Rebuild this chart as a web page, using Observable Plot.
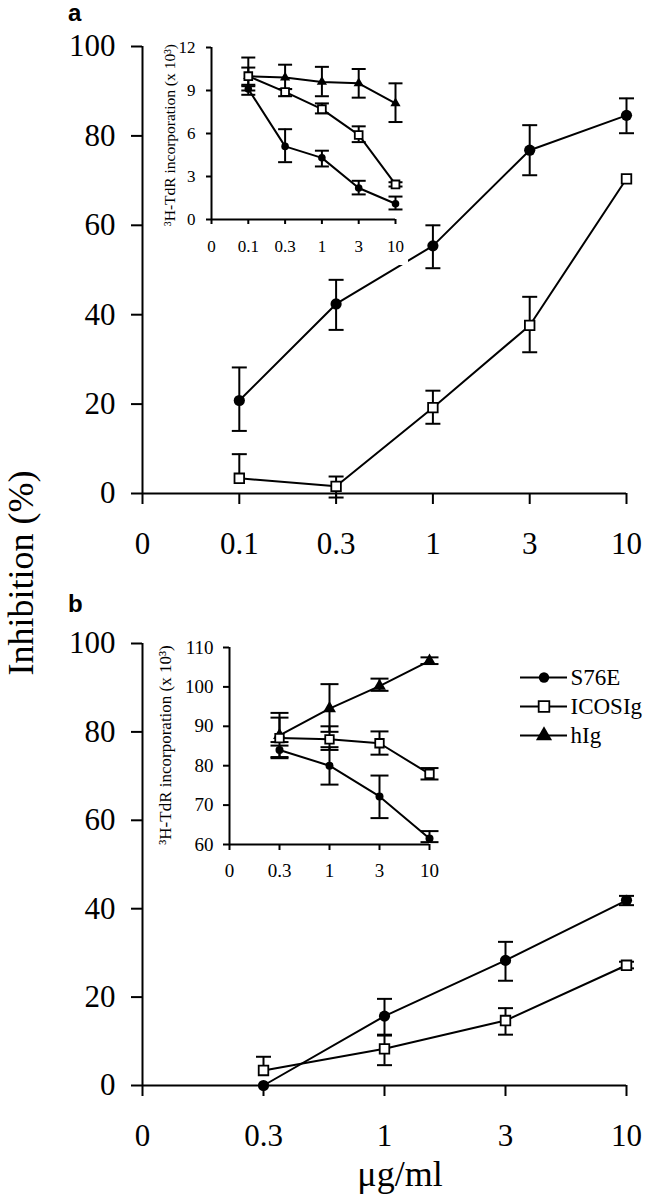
<!DOCTYPE html>
<html><head><meta charset="utf-8">
<script src="https://cdn.jsdelivr.net/npm/d3@7"></script>
<script src="https://cdn.jsdelivr.net/npm/@observablehq/plot@0.6"></script>
<style>
body{margin:0;background:#fff;}
#fig{position:relative;width:647px;height:1199px;overflow:hidden;font-family:"Liberation Serif",serif;color:#000;}
#fig > svg{position:absolute;}
.lbl{position:absolute;white-space:nowrap;line-height:1;}
.rot{transform:translate(-50%,-50%) rotate(-90deg);}
.ctr{transform:translate(-50%,-50%);}
.panel{font-family:"Liberation Sans",Arial,sans-serif;font-weight:bold;font-size:24px;}
</style></head><body><div id="fig"></div>
<script>
// ---------- data ----------
const doseA = ["0","0.1","0.3","1","3","10"];
const doseB = ["0","0.3","1","3","10"];
const seriesNames = ["S76E","ICOSIg","hIg"];
const ticksInhibition = [0,20,40,60,80,100];
const ticksInsetA = [0,3,6,9,12];
const ticksInsetB = [60,70,80,90,100,110];

// Panel a, main (Inhibition %)
const aS76E    = [20.8, 42.4, 55.4, 76.8, 84.6];
const aS76ELo  = [14.0, 36.6, 50.4, 71.2, 80.6];
const aS76EHi  = [28.2, 47.8, 60.0, 82.4, 88.4];
const aICOS    = [3.4, 1.6, 19.2, 37.6, 70.4];
const aICOSLo  = [null, -0.9, 15.6, 31.6, null];
const aICOSHi  = [8.8, 3.8, 23.0, 44.0, null];

// Panel a, inset (3H-TdR incorporation x10^3)
const iaS76E   = [9.1, 5.1, 4.3, 2.2, 1.1];
const iaS76ELo = [8.7, 4.0, 3.7, 1.75, 0.7];
const iaS76EHi = [9.3, 6.3, 4.8, 2.7, 1.6];
const iaICOS   = [10.0, 8.9, 7.7, 5.9, 2.45];
const iaICOSLo = [9.4, 8.6, 7.4, 5.4, 2.3];
const iaICOSHi = [10.6, 9.1, 8.1, 6.5, 2.6];
const iahIg    = [10.0, 9.9, 9.6, 9.5, 8.1];
const iahIgLo  = [9.0, 9.1, 8.6, 8.5, 6.8];
const iahIgHi  = [11.3, 10.8, 10.65, 10.5, 9.5];

// Panel b, main (Inhibition %)
const bS76E    = [0.0, 15.7, 28.3, 41.9];
const bS76ELo  = [null, 11.5, 23.7, 40.8];
const bS76EHi  = [null, 19.6, 32.5, 42.9];
const bICOS    = [3.4, 8.3, 14.7, 27.2];
const bICOSLo  = [null, 4.6, 11.5, 26.5];
const bICOSHi  = [6.5, 11.3, 17.5, 28.0];

// Panel b, inset (3H-TdR incorporation x10^3)
const ibS76E   = [84.0, 80.0, 72.2, 61.5];
const ibS76ELo = [82.2, 75.2, 66.7, 60.6];
const ibS76EHi = [85.1, 84.7, 77.5, 63.4];
const ibICOS   = [87.0, 86.7, 85.7, 77.9];
const ibICOSLo = [81.9, 84.0, 82.8, 76.5];
const ibICOSHi = [92.2, 90.0, 88.7, 79.4];
const ibhIg    = [87.7, 94.5, 100.2, 106.6];
const ibhIgLo  = [86.0, 88.6, 99.0, 105.8];
const ibhIgHi  = [93.4, 100.7, 102.1, 107.5];

// ---------- helpers ----------
const fig = document.getElementById("fig");
const capSymbol = {draw(ctx, size){ const r = Math.sqrt(size/Math.PI); ctx.moveTo(-r,0); ctx.lineTo(r,0); }};
const markerStyle = {
  S76E:   {symbol:"circle", fill:"black"},
  ICOSIg: {symbol:"square", fill:"white", stroke:"black"},
  hIg:    {symbol:"triangle", fill:"black"}
};

function rowsOf(list){
  const rows = [];
  for (const s of list) s.values.forEach((v,i)=>rows.push({series:s.name, x:i+1, y:v, lo:s.lo[i], hi:s.hi[i]}));
  return rows;
}

function panel(o){
  const rows = rowsOf(o.series);
  const n = o.doses.length;
  const marks = [
    Plot.ruleX([0], {y1:o.yDomain[0], y2:o.yDomain[1], strokeWidth:o.axisW}),
    Plot.ruleY([o.yDomain[0]], {x1:0, x2:n-1, strokeWidth:o.axisW}),
    Plot.axisY({ticks:o.yTicks, tickSize:o.tickSize, tickPadding:o.padY, label:null, strokeWidth:o.axisW}),
    Plot.axisX({ticks:d3.range(n), tickFormat:i=>o.doses[i], tickSize:o.tickSize, tickPadding:o.padX, label:null, strokeWidth:o.axisW}),
    Plot.line(rows, {x:"x", y:"y", z:"series", stroke:"black", strokeWidth:o.lineW}),
    Plot.ruleX(rows, {x:"x", y1:d=>d.lo ?? d.y, y2:d=>d.hi ?? d.y, strokeWidth:o.lineW}),
    Plot.dot(rows.filter(d=>d.hi!=null), {x:"x", y:"hi", symbol:capSymbol, r:o.capR, stroke:"black", strokeWidth:o.lineW}),
    Plot.dot(rows.filter(d=>d.lo!=null), {x:"x", y:"lo", symbol:capSymbol, r:o.capR, stroke:"black", strokeWidth:o.lineW})
  ];
  for (const s of o.series){
    const m = markerStyle[s.name];
    marks.push(Plot.dot(rows.filter(d=>d.series===s.name), {x:"x", y:"y", symbol:m.symbol, r:o.r[s.name],
      fill:m.fill, stroke:m.stroke || "none", strokeWidth:1.8}));
  }
  const svg = Plot.plot({
    width:o.width, height:o.height,
    marginLeft:o.xRange[0], marginRight:o.width - o.xRange[1],
    marginTop:o.yRange[1], marginBottom:o.height - o.yRange[0],
    x:{type:"linear", domain:[0,n-1]},
    y:{type:"linear", domain:o.yDomain},
    style:{fontFamily:'"Liberation Serif", serif', fontSize:o.fontSize+"px", background:o.bg || "transparent", overflow:"visible", color:"black"},
    marks
  });
  svg.style.left = o.left+"px"; svg.style.top = o.top+"px";
  fig.appendChild(svg);
}

function label(text, cls, x, y, size){
  const d = document.createElement("div");
  d.className = "lbl " + cls;
  d.textContent = text;
  d.style.left = x+"px"; d.style.top = y+"px";
  if (size) d.style.fontSize = size+"px";
  fig.appendChild(d);
}

// ---------- panel a ----------
panel({left:0, top:0, width:647, height:560, doses:doseA, yDomain:[0,100], yTicks:ticksInhibition,
  xRange:[142,626], yRange:[493,46], fontSize:31, tickSize:11, padX:27, padY:16, axisW:2, lineW:2, capR:7.5,
  r:{S76E:5.6, ICOSIg:5.4},
  series:[{name:"S76E", values:aS76E, lo:aS76ELo, hi:aS76EHi},{name:"ICOSIg", values:aICOS, lo:aICOSLo, hi:aICOSHi}]});

panel({left:160, top:25, width:248, height:240, bg:"white", doses:doseA, yDomain:[0,12], yTicks:ticksInsetA,
  xRange:[51,235], yRange:[194,22], fontSize:17, tickSize:5, padX:15, padY:11, axisW:2, lineW:2, capR:7,
  r:{S76E:3.8, ICOSIg:4.4, hIg:3.8},
  series:[{name:"hIg", values:iahIg, lo:iahIgLo, hi:iahIgHi},{name:"ICOSIg", values:iaICOS, lo:iaICOSLo, hi:iaICOSHi},{name:"S76E", values:iaS76E, lo:iaS76ELo, hi:iaS76EHi}]});

// ---------- panel b ----------
panel({left:0, top:560, width:647, height:639, doses:doseB, yDomain:[0,100], yTicks:ticksInhibition,
  xRange:[142,626], yRange:[525,83], fontSize:31, tickSize:11, padX:27, padY:16, axisW:2, lineW:2, capR:7.5,
  r:{S76E:5.6, ICOSIg:5.4},
  series:[{name:"S76E", values:bS76E, lo:bS76ELo, hi:bS76EHi},{name:"ICOSIg", values:bICOS, lo:bICOSLo, hi:bICOSHi}]});

panel({left:150, top:620, width:300, height:270, doses:doseB, yDomain:[60,110], yTicks:ticksInsetB,
  xRange:[79,279], yRange:[224,27], fontSize:19, tickSize:6, padX:13, padY:10, axisW:2, lineW:2, capR:9,
  r:{S76E:4, ICOSIg:4.8, hIg:4.8},
  series:[{name:"hIg", values:ibhIg, lo:ibhIgLo, hi:ibhIgHi},{name:"ICOSIg", values:ibICOS, lo:ibICOSLo, hi:ibICOSHi},{name:"S76E", values:ibS76E, lo:ibS76ELo, hi:ibS76EHi}]});

// ---------- legend ----------
{
  const legendRows = seriesNames.map(name=>({name}));
  const marks = [
    Plot.ruleY(legendRows, {y:"name", x1:0, x2:1, strokeWidth:2}),
    Plot.text(legendRows, {y:"name", x:1, text:"name", textAnchor:"start", dx:3, fontSize:23})
  ];
  const rL = {S76E:5.2, ICOSIg:6, hIg:6};
  for (const name of seriesNames){
    const m = markerStyle[name];
    marks.push(Plot.dot(legendRows.filter(d=>d.name===name), {y:"name", x:0.5, symbol:m.symbol, r:rL[name], fill:m.fill, stroke:m.stroke||"none", strokeWidth:1.8}));
  }
  const svg = Plot.plot({width:142, height:100, marginLeft:15, marginRight:80, marginTop:21, marginBottom:20,
    x:{type:"linear", domain:[0,1], axis:null},
    y:{type:"point", domain:seriesNames, padding:0, axis:null},
    style:{fontFamily:'"Liberation Serif", serif', fontSize:"23px", background:"transparent", overflow:"visible"},
    marks});
  svg.style.left = "505px"; svg.style.top = "655px";
  fig.appendChild(svg);
}

// ---------- text ----------
label("a", "panel", 68, 1);
label("b", "panel", 68, 592);
label("Inhibition (%)", "rot", 21, 573, 36);
label("μg/ml", "ctr", 400, 1174, 36);
label("³H-TdR incorporation (x 10³)", "rot", 170, 135, 15.5);
label("³H-TdR incorporation (x 10³)", "rot", 165, 745, 17);
</script></body></html>
